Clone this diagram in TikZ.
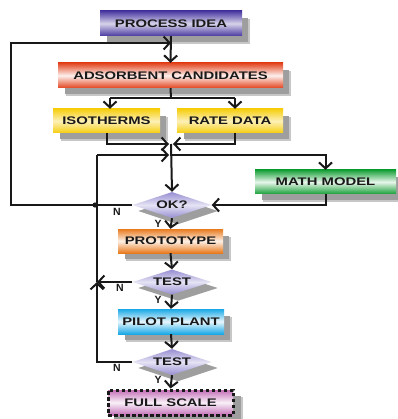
\documentclass[tikz,border=0pt]{standalone}
\usepackage{fontspec}
\setmainfont{Liberation Sans}
\usetikzlibrary{arrows.meta,shapes.geometric,backgrounds}
\definecolor{pv}{RGB}{72,56,160}
\definecolor{ared}{RGB}{226,68,30}
\definecolor{ayel}{RGB}{246,206,16}
\definecolor{agrn}{RGB}{24,160,56}
\definecolor{aorg}{RGB}{232,122,30}
\definecolor{acyn}{RGB}{24,168,230}
\definecolor{apnk}{RGB}{196,112,184}
\definecolor{adia}{RGB}{150,142,210}
\definecolor{ink}{RGB}{25,25,25}
\newcommand{\wtx}[1]{\scalebox{1.35}[1]{#1}}
\begin{document}
\begin{tikzpicture}[x=1pt,y=-1pt,
  box/.style={draw=none, minimum height=25pt, inner sep=0pt,
    font=\bfseries\fontsize{11}{11}\selectfont, text=ink},
  shd/.style={fill=black!38},
  dia/.style={diamond, aspect=3, inner sep=0pt, minimum width=79pt, minimum height=26pt,
    top color=adia, bottom color=adia, middle color=adia!25!white,
    font=\bfseries\fontsize{11}{11}\selectfont, text=ink},
  arr/.style={-{Straight Barb[length=6pt,width=13pt,line width=2pt]}, line width=2pt, draw=ink},
  ln/.style={line width=2pt, draw=ink},
  lab/.style={font=\bfseries\fontsize{10.5}{10.5}\selectfont, text=ink, inner sep=0pt}]
\useasboundingbox (0,0) rectangle (397,419);

% boxes
\node[box, minimum width=142pt, top color=pv, bottom color=pv, middle color=pv!22!white] (pi) at (171,23.5) {\wtx{PROCESS IDEA}};
\node[box, minimum width=225pt, top color=ared, bottom color=ared, middle color=ared!8!white] (ac) at (170.5,75.5) {\wtx{ADSORBENT CANDIDATES}};
\node[box, minimum width=107pt, minimum height=24pt, top color=ayel, bottom color=ayel, middle color=ayel!30!white] (iso) at (106.5,121) {\wtx{ISOTHERMS}};
\node[box, minimum width=106pt, minimum height=24pt, top color=ayel, bottom color=ayel, middle color=ayel!30!white] (rate) at (230,121) {\wtx{RATE DATA}};
\node[box, minimum width=141pt, minimum height=24pt, top color=agrn, bottom color=agrn, middle color=agrn!10!white] (mm) at (325.5,182) {\wtx{MATH MODEL}};
\node[dia] (ok) at (172,205) {\wtx{OK?}};
\node[box, minimum width=105pt, minimum height=24pt, top color=aorg, bottom color=aorg, middle color=aorg!12!white] (proto) at (170.5,241) {\wtx{PROTOTYPE}};
\node[dia, minimum height=25pt] (t1) at (172,282) {\wtx{TEST}};
\node[box, minimum width=106pt, top color=acyn, bottom color=acyn, middle color=acyn!10!white] (pilot) at (171,321.5) {\wtx{PILOT PLANT}};
\node[dia] (t2) at (172,362) {\wtx{TEST}};
\node[box, minimum width=125pt, top color=apnk, bottom color=apnk, middle color=apnk!10!white,
  draw=ink, line width=3pt, dash pattern=on 3.5pt off 2.5pt] (fs) at (170.5,402.5) {\wtx{FULL SCALE}};

% background and shadows
\begin{scope}[on background layer]
  \fill[white] (0,0) rectangle (397,419);
  \foreach \n in {pi,ac,iso,rate,mm,proto,pilot,fs}{
    \fill[black!22] ([shift={(8,8)}]\n.north west) rectangle ([shift={(8,8)}]\n.south east);
    \fill[shd] ([shift={(7,7)}]\n.north west) rectangle ([shift={(6,6)}]\n.south east);
  }
  \foreach \n in {ok,t1,t2}{
    \fill[shd] ([shift={(6,6)}]\n.north) -- ([shift={(6,6)}]\n.east) -- ([shift={(6,6)}]\n.south) -- ([shift={(6,6)}]\n.west) -- cycle;
  }
\end{scope}

% coordinates
\coordinate (j1) at (171,43);
\coordinate (jl) at (11,43);
\coordinate (jb) at (11,205);
\coordinate (s1) at (171,98);
\coordinate (s1l) at (110,98);
\coordinate (s1r) at (235,98);
\coordinate (m) at (171,144);
\coordinate (j2) at (171,155);
\coordinate (l1) at (97,155);
\coordinate (r1) at (325.5,155);
\coordinate (c1) at (97,282);
\coordinate (x1) at (95,205);

% connectors
\draw[arr] (pi.south) -- (ac.north);
\draw[arr] (ok.west) -- (jb) -- (jl) -- (j1);
\draw[ln] (ac.south) -- (s1);
\draw[ln] (s1l) -- (s1r);
\draw[arr] (s1l) -- (s1l |- iso.north);
\draw[arr] (s1r) -- (s1r |- rate.north);
\draw[arr, shorten >=2pt] (iso.south) |- (m);
\draw[arr, shorten >=2pt] ([xshift=5pt]rate.south) |- (m);
\draw[arr] (m) -- (ok.north);
\draw[arr, shorten >=2pt] (l1) -- (j2);
\draw[arr] (j2) -- (r1) -- (mm.north);
\draw[arr] (mm.south) |- (ok.east);
\draw[arr] (ok.south) -- (proto.north);
\draw[arr] (proto.south) -- (t1.north);
\draw[arr] (t1.west) -- (c1);
\draw[arr] (t1.south) -- (pilot.north);
\draw[arr] (pilot.south) -- (t2.north);
\draw[arr] (t2.west) -| (c1);
\draw[ln] (c1) -- (l1);
\draw[arr] (t2.south) -- (fs.north);
\fill[ink] (x1) circle (2.6pt);

% labels
\node[lab] (n1) at (117,212) {N};
\node[lab] (y1) at (158,224) {Y};
\node[lab] (n2) at (120,288) {N};
\node[lab] (y2) at (158,300) {Y};
\node[lab] (n3) at (117,368) {N};
\node[lab] (y3) at (158,380) {Y};
\end{tikzpicture}
\end{document}
